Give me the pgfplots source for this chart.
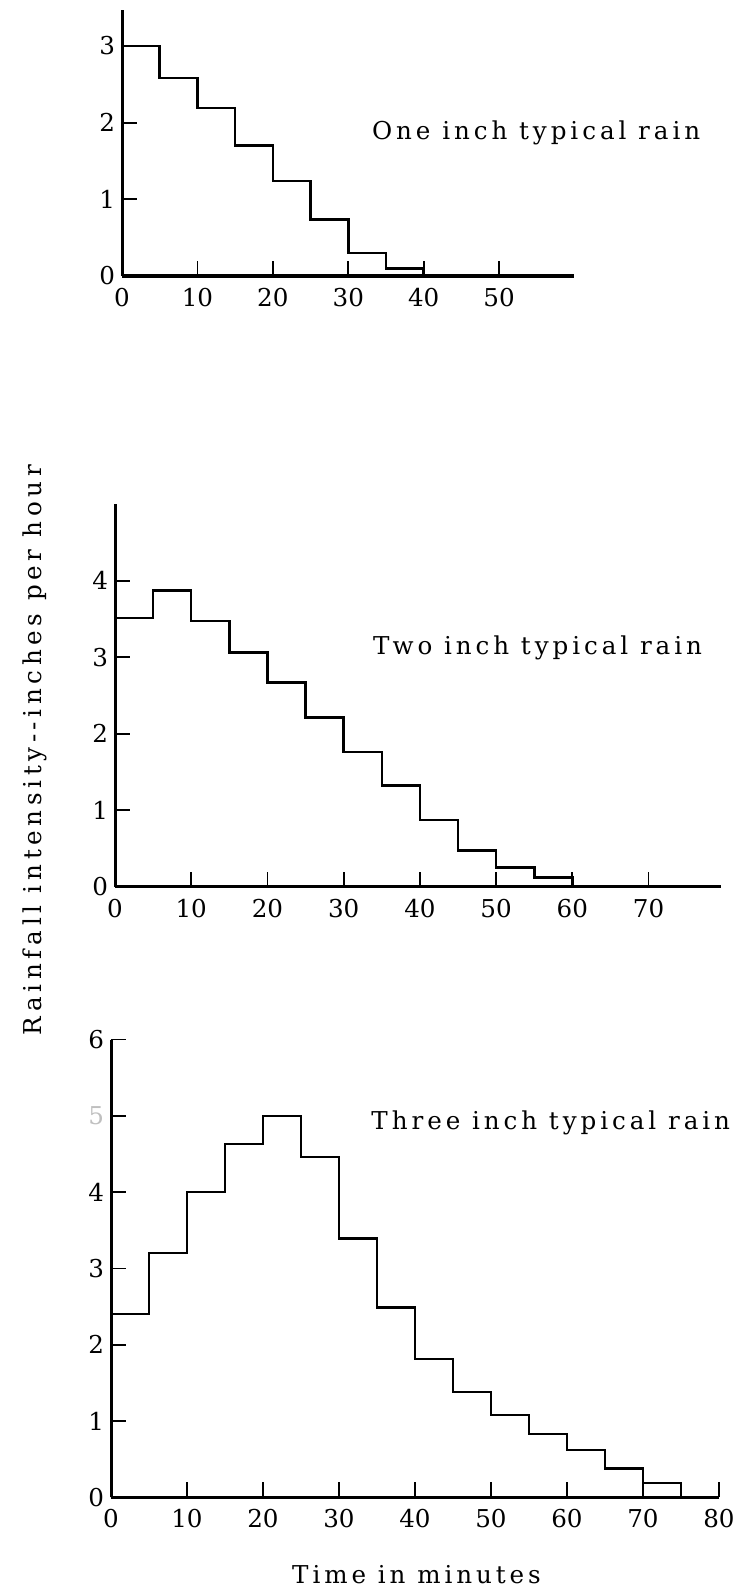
\documentclass[border=0pt]{standalone}
\usepackage{fontspec}
\setmainfont{DejaVu Serif}
\newfontfamily\labfont[LetterSpace=16]{DejaVu Serif}
\newfontfamily\ylabfont[LetterSpace=19]{DejaVu Serif}
\usepackage{pgfplots}
\pgfplotsset{compat=1.18}

% common look of the three step-chart panels
\pgfplotsset{rainpanel/.style={
  scale only axis,
  axis x line*=bottom, axis y line*=left,
  anchor=south west, xmin=0, ymin=0,
  x axis line style={line width=1.6pt},
  y axis line style={line width=1.5pt},
  tick style={line width=0.9pt, black},
  tick align=inside, major tick length=7.5pt,
  /pgf/number format/assume math mode=true,
  tick label style={font=\fontsize{12.3}{14}\selectfont},
  xticklabel style={yshift=-2.5pt},
  clip=false,
}}
\newcommand{\labsize}{\fontsize{12.3}{14}\labfont}

\begin{document}
\begin{tikzpicture}
\useasboundingbox (0pt,0pt) rectangle (373pt,795.5pt);

% one inch storm
\begin{axis}[rainpanel, at={(61pt,657.5pt)}, width=225.9pt, height=133pt,
  xmax=59.9, ymax=3.47, xtick={0,10,...,50}, ytick={0,1,2,3}]
\addplot[const plot, line width=1.25pt] coordinates {
  (0,3.00) (5,2.58) (10,2.19) (15,1.70) (20,1.24) (25,0.74)
  (30,0.30) (35,0.10) (40,0)};
\end{axis}
\node[anchor=west, font=\labsize] at (182.5pt,729pt) {One inch typical rain};

% two inch storm
\begin{axis}[rainpanel, at={(57.5pt,352.15pt)}, width=303pt, height=191.25pt,
  xmax=79.5, ymax=5, xtick={0,10,...,70}, ytick={0,1,2,3,4}]
\addplot[const plot, line width=1.25pt] coordinates {
  (0,3.51) (5,3.87) (10,3.47) (15,3.06) (20,2.67) (25,2.21)
  (30,1.76) (35,1.32) (40,0.87) (45,0.47) (50,0.25) (55,0.12) (60,0)};
\end{axis}
\node[anchor=west, font=\labsize] at (183pt,471.5pt) {Two inch typical rain};

% three inch storm
\begin{axis}[rainpanel, at={(55.5pt,46.85pt)}, width=304pt, height=228.9pt,
  xmax=80, ymax=6, xtick={0,10,...,80}, ytick={0,1,2,3,4,5,6},
  yticklabels={0,1,2,3,4,\textcolor{black!25}{5},6}]
\addplot[const plot, line width=1.25pt] coordinates {
  (0,2.40) (5,3.20) (10,4.00) (15,4.63) (20,5.00) (25,4.46)
  (30,3.39) (35,2.49) (40,1.81) (45,1.38) (50,1.08) (55,0.83)
  (60,0.62) (65,0.38) (70,0.19) (75,0)};
\end{axis}
\node[anchor=west, font=\labsize] at (182.2pt,233.85pt) {Three inch typical rain};

% shared axis titles
\node[font=\labsize] at (208.25pt,8pt) {Time in minutes};
\node[rotate=90, font=\fontsize{12.3}{14}\ylabfont] at (17.5pt,420.5pt) {Rainfall intensity-\kern2pt-inches per hour};
\end{tikzpicture}
\end{document}
